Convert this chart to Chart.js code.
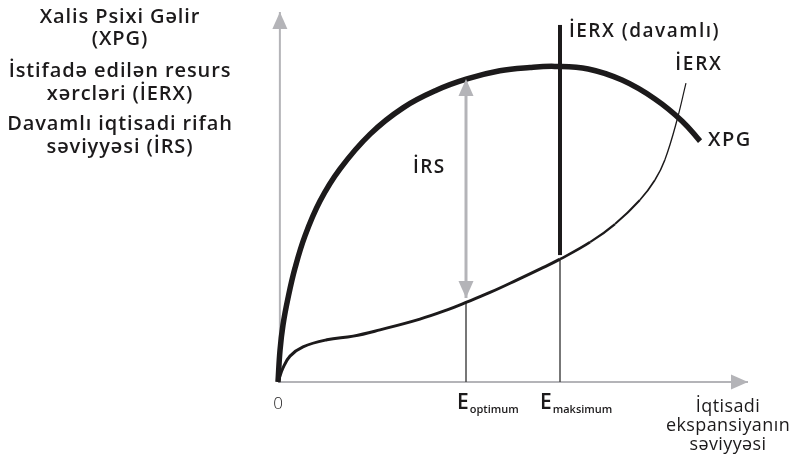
<!DOCTYPE html>
<html>
<head>
<meta charset="utf-8">
<script src="https://cdn.jsdelivr.net/npm/chart.js@4"></script>
<style>
  body { margin: 0; background: #fff; }
</style>
</head>
<body>
<canvas id="xpg-chart" width="795" height="457"></canvas>
<script>
// Xalis Psixi Gəlir (XPG) curve
var xpgX = [0, 0.43, 1.06, 2.13, 3.62, 5.74, 8.94, 13.2, 19.6, 26.6, 33.8, 40.2, 47.2, 53.6, 58.9, 66, 73.2, 80.2, 86, 89.8];
var xpgY = [0, 8.6, 15.4, 22.7, 30.8, 39.5, 48.9, 57.6, 67, 74.1, 78.9, 81.9, 84.1, 85, 85.3, 84.6, 81.6, 76.5, 70.5, 65.1];

// İstifadə edilən resurs xərcləri (İERX) curve
var ierxX = [0, 1.06, 2.55, 5.32, 10.4, 16, 21.7, 30.2, 36, 40, 45.1, 50.9, 55.7, 60, 66.4, 71.7, 77, 80.2, 82.3, 84.9, 86.8];
var ierxY = [0, 3.8, 7, 9.5, 11.4, 12.4, 14.1, 17, 19.5, 21.5, 24.2, 27.6, 30.5, 33.2, 37.8, 42.7, 49.2, 54.6, 60, 70.8, 80.8];

// key levels on the expansion axis
var eOptimum = 40;
var eMaksimum = 60;
var ierxAtOptimum = 21.5;
var ierxAtMaksimum = 33.2;
var davamliRange = [34.3, 96.5];
var irsRange = [22.7, 81.9];

// text
var leftLabels = ['Xalis Psixi Gəlir', '(XPG)', 'İstifadə edilən resurs', 'xərcləri (İERX)', 'Davamlı iqtisadi rifah', 'səviyyəsi (İRS)'];
var xTitle = ['İqtisadi', 'ekspansiyanın', 'səviyyəsi'];
var tickLabels = [{ v: eOptimum, sub: 'optimum' }, { v: eMaksimum, sub: 'maksimum' }];

var FONT = '"Open Sans", sans-serif';
var GRAY = '#b4b4b8';
var INK = '#1c1a1b';

function zip(xs, ys) {
    var pts = [];
    for (let i = 0; i < xs.length; i++) {
        pts.push({ x: xs[i], y: ys[i] });
    }
    return pts;
};

function drawHead(ctx, x0, y0, x1, y1, color) {
    var ang = Math.atan2(y1 - y0, x1 - x0);
    ctx.save();
    ctx.translate(x1, y1);
    ctx.rotate(ang);
    ctx.beginPath();
    ctx.moveTo(0, 0);
    ctx.lineTo(-17, -7.5);
    ctx.lineTo(-17, 7.5);
    ctx.closePath();
    ctx.fillStyle = color;
    ctx.fill();
    ctx.restore();
};

// arrow heads at the ends of the line datasets that ask for them
const arrowPlugin = {
    id: 'arrows',
    afterDatasetsDraw(chart) {
        const ctx = chart.ctx;
        chart.data.datasets.forEach(function (ds, i) {
            if (!ds.arrows) return;
            var pts = chart.getDatasetMeta(i).data;
            var n = pts.length;
            ds.arrows.forEach(function (end) {
                if (end === 'end') drawHead(ctx, pts[n - 2].x, pts[n - 2].y, pts[n - 1].x, pts[n - 1].y, ds.borderColor);
                else drawHead(ctx, pts[1].x, pts[1].y, pts[0].x, pts[0].y, ds.borderColor);
            });
        });
    }
};

function text(ctx, t, x, y, font, spacing) {
    ctx.font = font;
    ctx.letterSpacing = (spacing || 0) + 'px';
    ctx.fillText(t, x, y);
};

// all the texts
const labelPlugin = {
    id: 'labels',
    afterDraw(chart) {
        const ctx = chart.ctx;
        const x = chart.scales.x, y = chart.scales.y;
        const y0 = y.getPixelForValue(0);
        ctx.save();
        ctx.fillStyle = INK;
        ctx.textBaseline = 'alphabetic';

        // left description block
        ctx.textAlign = 'center';
        var base = [23, 45, 77, 100, 130, 153];
        leftLabels.forEach(function (t, i) { text(ctx, t, 120, base[i], '600 20px ' + FONT, 0.9); });

        // curve names
        ctx.textAlign = 'left';
        var f = '600 19px ' + FONT;
        text(ctx, 'İRS', x.getPixelForValue(28.7), y.getPixelForValue(56.5), f, 1.5);
        text(ctx, 'İERX (davamlı)', x.getPixelForValue(61.9), y.getPixelForValue(93.2), f, 1.5);
        text(ctx, 'İERX', x.getPixelForValue(84.5), y.getPixelForValue(84.3), f, 1.8);
        text(ctx, 'XPG', x.getPixelForValue(91.5), y.getPixelForValue(63.8), '600 20px ' + FONT, 1.5);

        // origin
        ctx.textAlign = 'center';
        text(ctx, '0', x.getPixelForValue(0), y0 + 27, '300 17px ' + FONT, 0);

        // E ticks with subscripts
        tickLabels.forEach(function (t, i) {
            var px = x.getPixelForValue(t.v) - (i === 0 ? 9 : 20);
            ctx.textAlign = 'left';
            text(ctx, 'E', px, y0 + 27, '600 21px ' + FONT, 0);
            var w = ctx.measureText('E').width;
            text(ctx, t.sub, px + w + 1, y0 + 31, '600 11px ' + FONT, 0);
        });

        // x axis title
        ctx.textAlign = 'center';
        xTitle.forEach(function (t, i) { text(ctx, t, 728, y0 + 30 + i * 19, '400 18px ' + FONT, 0.4); });
        ctx.restore();
    }
};

function lineSet(points, color, width, extra) {
    var ds = {
        data: points,
        borderColor: color,
        borderWidth: width,
        pointRadius: 0,
        fill: false,
        clip: false,
        borderCapStyle: 'butt'
    };
    return Object.assign(ds, extra || {});
};

function buildChart(id) {
    const ctx = document.getElementById(id);

    // İERX gets thinner after E maksimum
    var ierxWidths = [3, 3, 3, 3, 3, 3, 3, 3, 3, 3, 3, 3, 3, 2.6, 2.3, 2, 1.7, 1.5, 1.3, 1.2];

    return new Chart(ctx, {
        type: 'line',
        data: {
            datasets: [
                lineSet(zip(xpgX, xpgY), INK, 5.5, { tension: 0.4, order: 0 }),
                lineSet(zip(ierxX, ierxY), INK, 3, {
                    tension: 0.4, order: 1,
                    segment: { borderWidth: c => ierxWidths[c.p0DataIndex] }
                }),
                lineSet([{ x: eMaksimum, y: davamliRange[0] }, { x: eMaksimum, y: davamliRange[1] }], INK, 4, { order: 2 }),
                lineSet([{ x: eOptimum, y: 0 }, { x: eOptimum, y: ierxAtOptimum }], '#4a4a4a', 1.5, { order: 3 }),
                lineSet([{ x: eMaksimum, y: 0 }, { x: eMaksimum, y: ierxAtMaksimum }], '#4a4a4a', 1.5, { order: 3 }),
                lineSet([{ x: eOptimum, y: irsRange[0] }, { x: eOptimum, y: irsRange[1] }], GRAY, 3, { arrows: ['start', 'end'], order: 4 }),
                lineSet([{ x: 0.4, y: 0 }, { x: 0.4, y: 100 }], GRAY, 2, { arrows: ['end'], order: 5 }),
                lineSet([{ x: 0, y: 0 }, { x: 100, y: 0 }], GRAY, 2, { arrows: ['end'], order: 5 })
            ]
        },
        options: {
            responsive: false,
            animation: false,
            devicePixelRatio: 1,
            layout: {
                padding: { left: 278, right: 47, top: 12, bottom: 75 }
            },
            scales: {
                x: { type: 'linear', min: 0, max: 100, display: false },
                y: { type: 'linear', min: 0, max: 100, display: false }
            },
            plugins: {
                legend: { display: false },
                tooltip: { enabled: false }
            }
        },
        plugins: [arrowPlugin, labelPlugin]
    });
};

buildChart('xpg-chart');
</script>
</body>
</html>
